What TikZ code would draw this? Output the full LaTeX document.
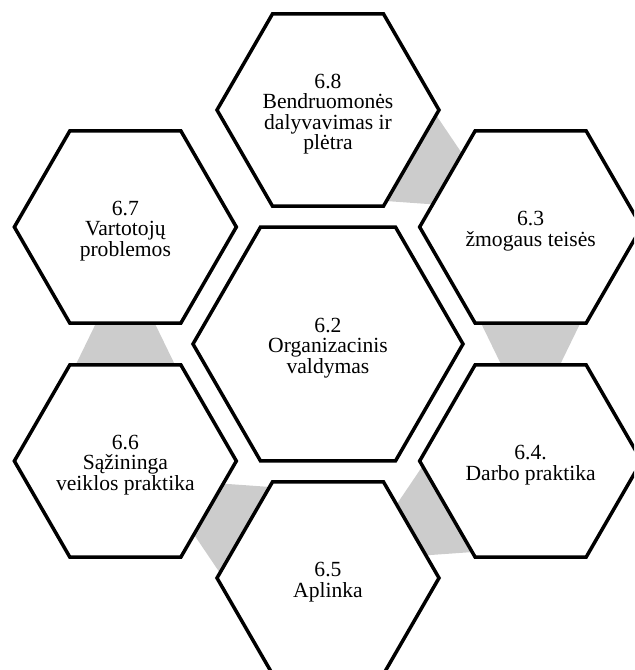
\documentclass[tikz,border=0pt]{standalone}
\usepackage{fontspec}
\setmainfont{Liberation Serif}
\definecolor{linkgray}{RGB}{204,204,204}

\begin{document}
\begin{tikzpicture}[x=0.5pt,y=0.5pt,line width=1.75pt,
    hexline/.style={draw=black,fill=white},
    hexlabel/.style={align=center,inner sep=0pt,yshift=-2pt,font=\fontsize{10.8}{10.2}\selectfont},
    link/.style={fill=linkgray,draw=none}]
    \clip (-328,-326) rectangle (306,344);
    % centres of the hexagons
    \coordinate (org) at (0,0);
    \coordinate (community) at (90:234);
    \coordinate (rights) at (30:234);
    \coordinate (labour) at (-30:234);
    \coordinate (environment) at (-90:234);
    \coordinate (fair) at (-150:234);
    \coordinate (consumer) at (150:234);

    % grey links, wide end at the first hexagon
    \foreach \from/\ang in {community/-30,rights/-90,labour/-150,environment/150,fair/90}
        \fill[link,shift={(\from)},rotate=\ang] (80,-57.5) -- (154,-21.5) -- (154,21.5) -- (80,57.5) -- cycle;

    \draw[hexline] (org) ++(0:135) -- ++(120:135) -- ++(180:135) -- ++(240:135) -- ++(300:135) -- ++(0:135) -- cycle;
    \foreach \c in {community,rights,labour,environment,fair,consumer}
        \draw[hexline] (\c) ++(0:111) -- ++(120:111) -- ++(180:111) -- ++(240:111) -- ++(300:111) -- ++(0:111) -- cycle;

    \node[hexlabel] (orgtext) at (org) {6.2\\Organizacinis\\valdymas};
    \node[hexlabel] (communitytext) at (community) {6.8\\Bendruomonės\\dalyvavimas ir\\plėtra};
    \node[hexlabel] (rightstext) at (rights) {6.3\\žmogaus teisės};
    \node[hexlabel] (labourtext) at (labour) {6.4.\\Darbo praktika};
    \node[hexlabel] (environmenttext) at (environment) {6.5\\Aplinka};
    \node[hexlabel] (fairtext) at (fair) {6.6\\Sąžininga\\veiklos praktika};
    \node[hexlabel] (consumertext) at (consumer) {6.7\\Vartotojų\\problemos};
\end{tikzpicture}
\end{document}
